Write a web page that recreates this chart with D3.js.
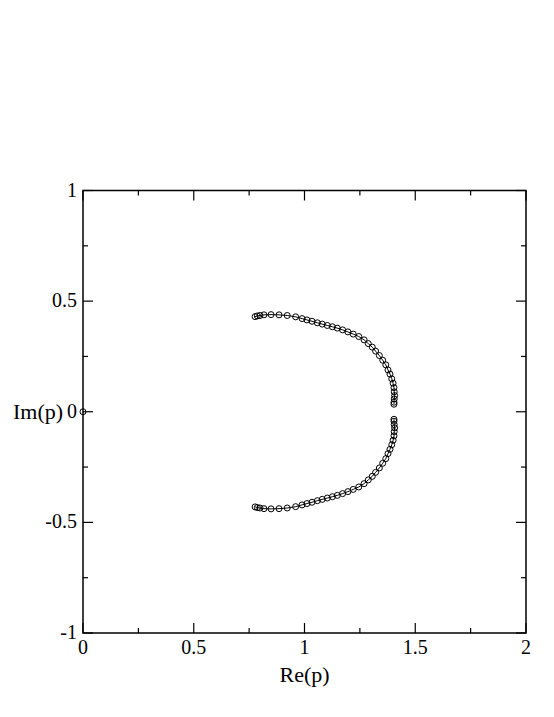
<!DOCTYPE html>
<html>
<head>
<meta charset="utf-8">
<script src="https://cdn.jsdelivr.net/npm/d3@7"></script>
<style>
  body { margin: 0; background: #fff; }
  svg text { font-family: "Liberation Serif", "DejaVu Serif", serif; fill: #000; }
</style>
</head>
<body>
<div id="chart"></div>
<script>
// upper branch of p (lower branch is its mirror)
const re_upper = [0.777, 0.787, 0.799, 0.817, 0.849, 0.885, 0.922, 0.960, 0.989, 1.011,
                  1.034, 1.058, 1.080, 1.103, 1.126, 1.148, 1.172, 1.196, 1.220, 1.245,
                  1.269, 1.288, 1.306, 1.321, 1.338, 1.353, 1.367, 1.377, 1.386, 1.394,
                  1.400, 1.404, 1.405, 1.407, 1.405, 1.404, 1.404]
const im_upper = [0.430, 0.433, 0.435, 0.438, 0.439, 0.438, 0.435, 0.429, 0.421, 0.415,
                  0.409, 0.402, 0.396, 0.390, 0.384, 0.378, 0.370, 0.361, 0.351, 0.340,
                  0.325, 0.308, 0.292, 0.274, 0.254, 0.233, 0.212, 0.189, 0.170, 0.149,
                  0.129, 0.109, 0.090, 0.073, 0.058, 0.043, 0.034]
const origin_point = [{re: 0, im: 0}]

const x_ticks = [0, 0.5, 1, 1.5, 2]
const y_ticks = [-1, -0.5, 0, 0.5, 1]
const x_minor = [0.25, 0.75, 1.25, 1.75]
const y_minor = [-0.75, -0.25, 0.25, 0.75]

const upper = re_upper.map((r, i) => ({re: r, im: im_upper[i]}))
const lower = re_upper.map((r, i) => ({re: r, im: -im_upper[i]}))

const W = 554, H = 717
const margin = {top: 190.5, right: 28, bottom: 84, left: 83}
const width = W - margin.left - margin.right,
      height = H - margin.top - margin.bottom

const svg = d3.select("#chart")
    .append("svg")
    .attr("width", W)
    .attr("height", H)
    .append("g")
    .attr("transform", "translate(" + margin.left + "," + margin.top + ")")

const x = d3.scaleLinear().domain([0, 2]).range([0, width])
const y = d3.scaleLinear().domain([-1, 1]).range([height, 0])

// plain hyphen for negatives, like the original
const fmt = d => String(d)

// ticks point inward on all four sides
function tickLines(sel, vals, len, orient) {
    vals.forEach(v => {
        if (orient === "x") {
            sel.append("line").attr("x1", x(v)).attr("x2", x(v)).attr("y1", height).attr("y2", height - len)
            sel.append("line").attr("x1", x(v)).attr("x2", x(v)).attr("y1", 0).attr("y2", len)
        } else {
            sel.append("line").attr("y1", y(v)).attr("y2", y(v)).attr("x1", 0).attr("x2", len)
            sel.append("line").attr("y1", y(v)).attr("y2", y(v)).attr("x1", width).attr("x2", width - len)
        }
    })
}
const ticks = svg.append("g").attr("stroke", "#000").attr("stroke-width", 1.2)
tickLines(ticks, x_ticks, 10, "x")
tickLines(ticks, x_minor, 5, "x")
tickLines(ticks, y_ticks, 10, "y")
tickLines(ticks, y_minor, 5, "y")

svg.append("rect")
    .attr("width", width)
    .attr("height", height)
    .attr("fill", "none")
    .attr("stroke", "#000")
    .attr("stroke-width", 1.5)

svg.selectAll(".xlab")
    .data(x_ticks)
    .enter().append("text")
    .attr("class", "xlab")
    .attr("x", d => x(d))
    .attr("y", height + 21)
    .attr("text-anchor", "middle")
    .style("font-size", "20px")
    .text(fmt)

svg.selectAll(".ylab")
    .data(y_ticks)
    .enter().append("text")
    .attr("class", "ylab")
    .attr("x", -6)
    .attr("y", d => y(d) + 6)
    .attr("text-anchor", "end")
    .style("font-size", "20px")
    .text(fmt)

svg.append("text")
    .attr("x", width / 2)
    .attr("y", height + 49)
    .attr("text-anchor", "middle")
    .style("font-size", "22px")
    .text("Re(p)")

svg.append("text")
    .attr("x", -45)
    .attr("y", y(0) + 7)
    .attr("text-anchor", "middle")
    .style("font-size", "22px")
    .text("Im(p)")

const line = d3.line()
    .x(d => x(d.re))
    .y(d => y(d.im))

;[upper, lower].forEach(series => {
    svg.append("path")
        .datum(series)
        .attr("fill", "none")
        .attr("stroke", "#000")
        .attr("stroke-width", 1)
        .attr("d", line)
})

;[upper, lower, origin_point].forEach(series => {
    svg.append("g")
        .selectAll("circle")
        .data(series)
        .enter().append("circle")
        .attr("cx", d => x(d.re))
        .attr("cy", d => y(d.im))
        .attr("r", 3)
        .attr("fill", "none")
        .attr("stroke", "#000")
        .attr("stroke-width", 1)
})
</script>
</body>
</html>
